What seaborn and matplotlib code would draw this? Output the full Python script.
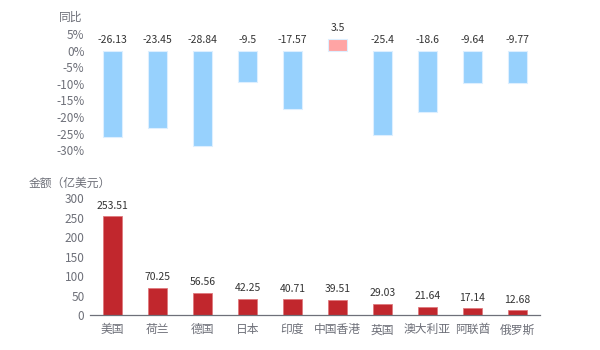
import numpy as np
import seaborn as sns
import matplotlib.pyplot as plt

countries = ["美国", "荷兰", "德国", "日本", "印度", "中国香港", "英国", "澳大利亚", "阿联酋", "俄罗斯"]
yoy = [-26.13, -23.45, -28.84, -9.5, -17.57, 3.5, -25.4, -18.6, -9.64, -9.77]
yoy_labels = ["-26.13", "-23.45", "-28.84", "-9.5", "-17.57", "3.5", "-25.4", "-18.6", "-9.64", "-9.77"]
amount = [253.51, 70.25, 56.56, 42.25, 40.71, 39.51, 29.03, 21.64, 17.14, 12.68]
amount_labels = ["253.51", "70.25", "56.56", "42.25", "40.71", "39.51", "29.03", "21.64", "17.14", "12.68"]

sns.set_style("white")
plt.rcParams["font.family"] = ["Noto Sans CJK SC", "DejaVu Sans"]

fig = plt.figure(figsize=(6, 3.5), dpi=100)
ax1 = fig.add_axes([0.15, 0.571, 0.75, 0.332])
ax2 = fig.add_axes([0.15, 0.10, 0.75, 0.334])

tick_color = "#6E7079"
label_color = "#333333"

# 同比
pal1 = ["#FFA4A4" if v > 0 else "#97D1FD" for v in yoy]
sns.barplot(x=countries, y=yoy, hue=countries, palette=pal1, legend=False, saturation=1,
            width=0.44, edgecolor="#DDEFFF", linewidth=0.8, ax=ax1)
ax1.set_xlim(-0.5, 9.5)
ax1.set_ylim(-30, 5)
ax1.set_yticks(np.arange(-30, 6, 5))
ax1.set_yticklabels([f"{t}%" for t in range(-30, 6, 5)])
ax1.set_xticks([])
ax1.tick_params(axis="y", length=0, labelsize=8.5, labelcolor=tick_color, pad=4)
for s in ax1.spines.values():
    s.set_visible(False)
for i, v in enumerate(yoy):
    ax1.annotate(yoy_labels[i], (i, max(v, 0)), xytext=(0, 4), textcoords="offset points",
                 ha="center", va="bottom", fontsize=7.5, color=label_color)
ax1.set_xlabel("")
fig.text(0.137, 0.95, "同比", ha="right", va="center", fontsize=8.5, color=tick_color)

# 金额
sns.barplot(x=countries, y=amount, color="#C1272D", width=0.44, saturation=1,
            edgecolor="#E07A7E", linewidth=0.6, ax=ax2)
ax2.set_xlim(-0.5, 9.5)
ax2.set_ylim(0, 300)
ax2.set_yticks(np.arange(0, 301, 50))
ax2.tick_params(axis="y", length=0, labelsize=8.5, labelcolor=tick_color, pad=4)
ax2.tick_params(axis="x", length=4, color=tick_color, labelsize=8.5, labelcolor=tick_color, pad=2)
for s in ["top", "right", "left"]:
    ax2.spines[s].set_visible(False)
ax2.spines["bottom"].set_color(tick_color)
ax2.spines["bottom"].set_linewidth(0.9)
for i, v in enumerate(amount):
    ax2.annotate(amount_labels[i], (i, v), xytext=(0, 4), textcoords="offset points",
                 ha="center", va="bottom", fontsize=7.5, color=label_color)
fig.text(0.047, 0.477, "金额（亿美元）", ha="left", va="center", fontsize=8.5, color=tick_color)

fig.savefig("out.png", dpi=100, facecolor="white")
